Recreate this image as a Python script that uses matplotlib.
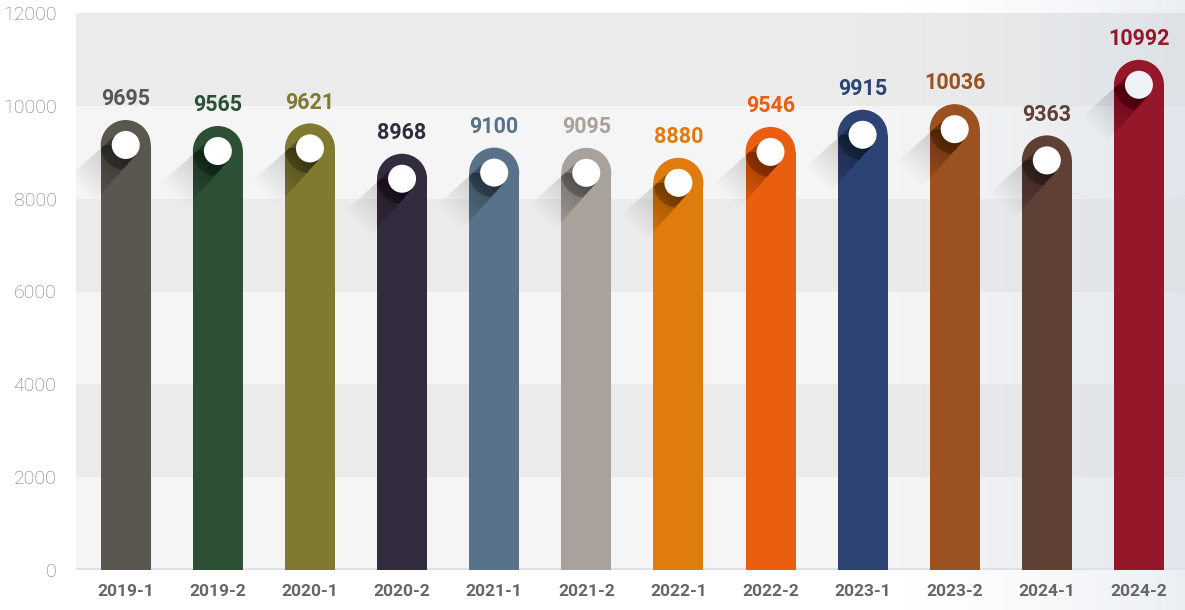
import numpy as np
import matplotlib
matplotlib.use("Agg")
import matplotlib.pyplot as plt
from matplotlib.patches import Rectangle, Ellipse, Polygon

periods = ["2019-1", "2019-2", "2020-1", "2020-2", "2021-1", "2021-2",
           "2022-1", "2022-2", "2023-1", "2023-2", "2024-1", "2024-2"]
values = [9695, 9565, 9621, 8968, 9100, 9095, 8880, 9546, 9915, 10036, 9363, 10992]
colors = ["#5a5650", "#2d5035", "#7f7a30", "#332b3e", "#587389", "#a8a19c",
          "#e07c0e", "#e95e0f", "#2d4373", "#9b5220", "#5e4034", "#95182a"]
yticks = [0, 2000, 4000, 6000, 8000, 10000, 12000]

W, H, DPI = 1185, 610, 100
plt.rcParams['font.family'] = ['Roboto', 'DejaVu Sans']

fig = plt.figure(figsize=(W / DPI, H / DPI), dpi=DPI)

def ramp(x0=0.76, top=0.45):
    xs = np.linspace(0, 1, 400)
    a = np.clip((xs - x0) / (1 - x0), 0, 1) ** 1.4 * top
    img = np.zeros((2, xs.size, 4))
    img[..., 0], img[..., 1], img[..., 2] = 0.83, 0.86, 0.90
    img[..., 3] = a
    return img

# figure background gradient (top / bottom margins on the right)
bg = fig.add_axes([0, 0, 1, 1], zorder=-1)
bg.axis("off")
bg.imshow(ramp(), aspect="auto", extent=[0, 1, 0, 1])
bg.set_xlim(0, 1)
bg.set_ylim(0, 1)

ax_l, ax_b, ax_r, ax_t = 76, 40, 1185, 597
ax = fig.add_axes([ax_l / W, ax_b / H, (ax_r - ax_l) / W, (ax_t - ax_b) / H])
ax.set_facecolor("none")
n = len(periods)
ax.set_xlim(-0.54, n - 0.5)
ax.set_ylim(0, 12000)

px_x = (ax_r - ax_l) / (n - 0.5 + 0.54)
px_y = (ax_t - ax_b) / 12000.0

for i in range(len(yticks) - 1):
    c = "#f5f5f5" if i % 2 == 0 else "#ebebeb"
    ax.axhspan(yticks[i], yticks[i + 1], color=c, zorder=0, lw=0)
ax.imshow(ramp(0.70, 0.55), aspect="auto", extent=[-0.54, n - 0.5, 0, 12000], zorder=0.5)
ax.axhline(0, color="#dfe1e4", lw=3, zorder=1)

bar_px = 50
cap_r = bar_px / 2
dot_r = 14
bw = bar_px / px_x
cap_h = cap_r / px_y

d = np.array([-1.0, -1.0]) / np.sqrt(2)
p = np.array([1.0, -1.0]) / np.sqrt(2)
steps = 18

for i, (v, c) in enumerate(zip(values, colors)):
    body = Rectangle((i - bw / 2, 0), bw, v - cap_h, fc=c, ec="none", zorder=3)
    cap = Ellipse((i, v - cap_h), bw, 2 * cap_h, fc=c, ec="none", zorder=3)
    ax.add_patch(body)
    ax.add_patch(cap)

    cx, cy = i, v - cap_h
    # soft long shadow toward lower-left
    for k in range(1, steps + 1):
        L = 62 * k / steps
        w = dot_r * (1.0 + 0.25 * k / steps)
        pts_px = [p * dot_r, -p * dot_r, -p * w + d * L, p * w + d * L]
        pts = [(cx + q[0] / px_x, cy + q[1] / px_y) for q in pts_px]
        ax.add_patch(Polygon(pts, closed=True, fc="black", ec="none",
                             alpha=0.012, zorder=2))
        for clip in (body, cap):
            sh = Polygon(pts, closed=True, fc="black", ec="none",
                         alpha=0.021, zorder=4)
            ax.add_patch(sh)
            sh.set_clip_path(clip)
    dot_fc = "#eef1f6" if i == n - 1 else "white"
    ax.add_patch(Ellipse((cx, cy), 2 * dot_r / px_x, 2 * dot_r / px_y,
                         fc=dot_fc, ec="none", zorder=5))
    ax.annotate(f"{v}", (i, v), xytext=(0, 7), textcoords="offset points",
                ha="center", va="bottom", fontsize=15.5, fontweight="bold",
                color=c, zorder=6)

ax.set_xticks(range(n))
ax.set_xticklabels(periods, fontsize=12.5, fontweight="bold", color="#666666")
ax.set_yticks(yticks)
ax.set_yticklabels([str(t) for t in yticks], fontsize=14, fontweight="light",
                   color="#777777")
ax.tick_params(axis="both", length=0)
ax.tick_params(axis="x", pad=10)
ax.tick_params(axis="y", pad=14)
for s in ax.spines.values():
    s.set_visible(False)

fig.savefig("out.png", dpi=DPI)
